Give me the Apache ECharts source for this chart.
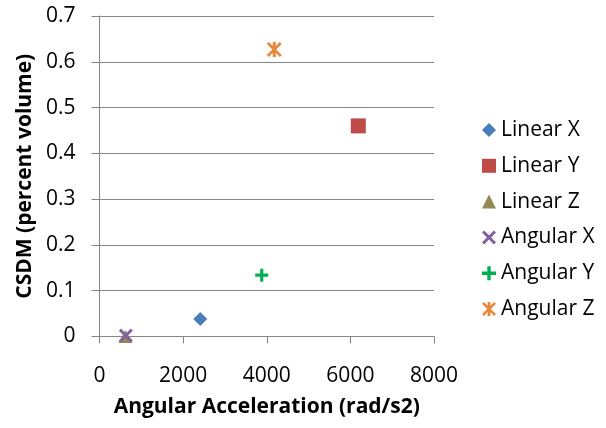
<!DOCTYPE html>
<html>
<head>
<meta charset="utf-8">
<script src="https://cdn.jsdelivr.net/npm/echarts@6/dist/echarts.min.js"></script>
<style>
  html, body { margin: 0; padding: 0; background: #fff; }
  #chart { width: 606px; height: 428px; }
</style>
</head>
<body>
<div id="chart"></div>
<script>
// Series names, one point per series
const seriesNames = ['Linear X', 'Linear Y', 'Linear Z', 'Angular X', 'Angular Y', 'Angular Z'];
// Angular acceleration (rad/s2)
const xValues = [2410, 6190, 620, 630, 3880, 4180];
// CSDM (percent volume)
const yValues = [0.038, 0.46, 0.0, 0.002, 0.134, 0.627];
// Axis ticks
const xTicks = [0, 2000, 4000, 6000, 8000];
const yTicks = [0, 0.1, 0.2, 0.3, 0.4, 0.5, 0.6, 0.7];

const FONT = '"Open Sans", Lato, sans-serif';
const GRID_GRAY = '#868686';

// Marker shapes drawn in a 10x10 box
const SYM_X = 'path://M0,1.5 L1.5,0 L5,3.5 L8.5,0 L10,1.5 L6.5,5 L10,8.5 L8.5,10 L5,6.5 L1.5,10 L0,8.5 L3.5,5 Z';
const SYM_PLUS = 'path://M3.8,0 H6.2 V3.8 H10 V6.2 H6.2 V10 H3.8 V6.2 H0 V3.8 H3.8 Z';
const SYM_STAR = 'path://M0,1.3 L1.3,0 L5,3.7 L8.7,0 L10,1.3 L6.3,5 L10,8.7 L8.7,10 L5,6.3 L1.3,10 L0,8.7 L3.7,5 Z M4,0 H6 V10 H4 Z';

const markerStyles = [
  { symbol: 'diamond', size: [14, 14], color: '#4A7EBB' },
  { symbol: 'rect', size: [15, 15], color: '#BE4B48' },
  { symbol: 'triangle', size: [14, 13], color: '#948A54' },
  { symbol: SYM_X, size: [14, 14], color: '#7F62A0' },
  { symbol: SYM_PLUS, size: [13, 13], color: '#00B050' },
  { symbol: SYM_STAR, size: [15, 15], color: '#E8883A' }
];

const series = seriesNames.map((name, i) => ({
  name: name,
  type: 'scatter',
  symbol: markerStyles[i].symbol,
  symbolSize: markerStyles[i].size,
  itemStyle: { color: markerStyles[i].color, opacity: 1 },
  data: [[xValues[i], yValues[i]]],
  z: 2 + i
}));

const chart = echarts.init(document.getElementById('chart'), null, { renderer: 'canvas' });
chart.setOption({
  animation: false,
  backgroundColor: '#ffffff',
  grid: { left: 99.5, right: 172, top: 16, bottom: 91.5, containLabel: false },
  xAxis: {
    type: 'value',
    min: xTicks[0],
    max: xTicks[xTicks.length - 1],
    interval: xTicks[1] - xTicks[0],
    name: 'Angular Acceleration (rad/s2)',
    nameLocation: 'middle',
    nameGap: 60,
    nameTextStyle: { fontFamily: FONT, fontSize: 21, fontWeight: 'bold', color: '#000' },
    axisLine: { show: true, lineStyle: { color: GRID_GRAY, width: 1 } },
    axisTick: { show: true, length: 7, inside: false, lineStyle: { color: GRID_GRAY } },
    axisLabel: { fontFamily: FONT, fontSize: 21, color: '#000', margin: 29, formatter: v => String(v) },
    splitLine: { show: false }
  },
  yAxis: {
    type: 'value',
    min: yTicks[0],
    max: yTicks[yTicks.length - 1],
    interval: 0.1,
    name: 'CSDM (percent volume)',
    nameLocation: 'middle',
    nameRotate: 90,
    nameGap: 62,
    nameTextStyle: { fontFamily: FONT, fontSize: 21, fontWeight: 'bold', color: '#000' },
    axisLine: { show: true, lineStyle: { color: GRID_GRAY, width: 1 } },
    axisTick: { show: true, length: 8, inside: false, lineStyle: { color: GRID_GRAY } },
    axisLabel: {
      fontFamily: FONT, fontSize: 21, color: '#000', margin: 24,
      formatter: v => String(Math.round(v * 10) / 10)
    },
    splitLine: { show: true, lineStyle: { color: GRID_GRAY, width: 1 } }
  },
  legend: {
    orient: 'vertical',
    left: 477,
    top: 114,
    itemWidth: 14,
    itemHeight: 14,
    itemGap: 13.8,
    textStyle: { fontFamily: FONT, fontSize: 21, color: '#000', lineHeight: 22 },
    data: seriesNames
  },
  series: series
});
</script>
</body>
</html>
